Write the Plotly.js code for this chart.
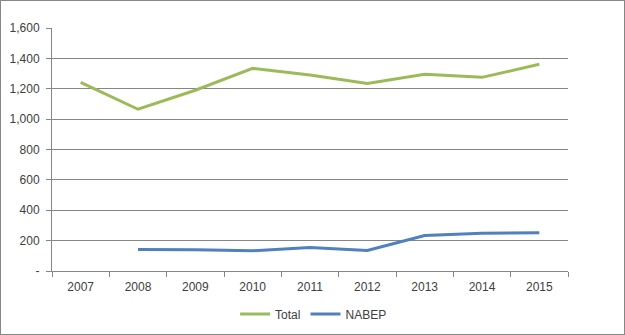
<!DOCTYPE html>
<html><head><meta charset="utf-8">
<script src="https://cdn.plot.ly/plotly-3.0.1.min.js"></script>
<style>
html,body{margin:0;padding:0;background:#fff;}
#wrap{position:relative;width:625px;height:335px;}
#chart{width:625px;height:335px;}
#frame{position:absolute;left:0;top:0;width:625px;height:335px;box-sizing:border-box;border:1px solid #878787;pointer-events:none;}
</style></head>
<body>
<div id="wrap"><div id="chart"></div><div id="frame"></div></div>
<script>
const years = ['2007','2008','2009','2010','2011','2012','2013','2014','2015'];
const totalValues = [1242, 1065, 1190, 1334, 1290, 1235, 1295, 1275, 1361];
const nabepValues = [null, 141, 140, 133, 154, 135, 233, 248, 252];
const yTickVals = [0, 200, 400, 600, 800, 1000, 1200, 1400, 1600];
const yTickText = ['-', '200', '400', '600', '800', '1,000', '1,200', '1,400', '1,600'];

const traces = [
  {x: years, y: totalValues, name: 'Total', type: 'scatter', mode: 'lines',
   line: {color: '#9BBB59', width: 3}},
  {x: years, y: nabepValues, name: 'NABEP', type: 'scatter', mode: 'lines',
   line: {color: '#4F81BD', width: 3}, connectgaps: false}
];

const layout = {
  width: 625, height: 335,
  margin: {l: 52, r: 57, t: 28, b: 64, autoexpand: false},
  paper_bgcolor: '#fff', plot_bgcolor: '#fff',
  font: {family: 'Liberation Sans, Arial, sans-serif', size: 12, color: '#404040'},
  showlegend: true,
  legend: {orientation: 'h', x: 0.507, xanchor: 'center', y: -0.177, yanchor: 'middle',
           font: {size: 12, color: '#404040'}, itemwidth: 30, tracegroupgap: 0},
  xaxis: {type: 'category', range: [-0.5, 8.5], tickson: 'boundaries', ticks: 'outside', ticklen: 5,
          tickcolor: '#868686', showline: true, linecolor: '#868686', linewidth: 1,
          showgrid: false, zeroline: false, fixedrange: true, ticklabelstandoff: 5},
  yaxis: {range: [0, 1600], tickvals: yTickVals, ticktext: yTickText,
          ticks: 'outside', ticklen: 5, tickcolor: '#868686',
          showline: true, linecolor: '#868686', linewidth: 1,
          showgrid: true, gridcolor: '#868686', gridwidth: 1, zeroline: false,
          fixedrange: true, ticklabelstandoff: 4}
};

Plotly.newPlot('chart', traces, layout, {displayModeBar: false, staticPlot: true});
</script>
</body></html>
